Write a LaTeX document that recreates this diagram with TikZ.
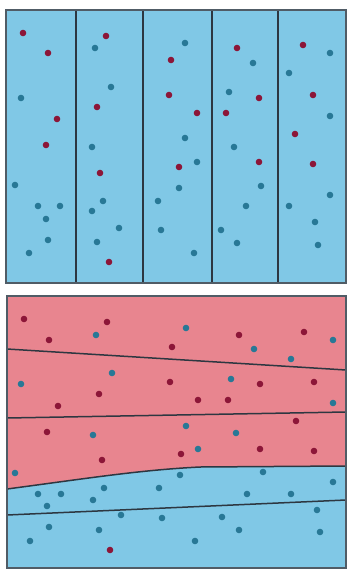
\documentclass[tikz,border=0pt]{standalone}
\begin{document}
\begin{tikzpicture}[x=1pt,y=-1pt]
\definecolor{skyb}{RGB}{128,200,230}
\definecolor{pinkr}{RGB}{232,133,143}
\definecolor{dotred}{RGB}{140,22,56}
\definecolor{dotblue}{RGB}{40,120,150}
\definecolor{frame}{RGB}{80,92,102}
\definecolor{sep}{RGB}{45,55,65}
\tikzset{
  rdot/.style={fill=dotred},
  bdot/.style={fill=dotblue},
  panel/.style={draw=frame,line width=1.3pt},
  divider/.style={draw=sep,line width=1.5pt}
}
\useasboundingbox (0,0) rectangle (348,570);
\fill[white] (0,0) rectangle (348,570);
% ---------- top panel ----------
\fill[skyb] (6,10) rectangle (346,283);
\foreach \x in {76,143,212,278}{
  \draw[divider] (\x,10) -- (\x,283);
}
\draw[panel] (6,10) rectangle (346,283);
\foreach \x/\y in {23/33,48/53,57/119,46/145,106/36,97/107,100/173,109/262,171/60,169/95,
  197/113,179/167,237/48,259/98,226/113,259/162,303/45,313/95,295/134,313/164}{
  \fill[rdot] (\x,\y) circle (3.3);
}
\foreach \x/\y in {21/98,15/185,38/206,60/206,46/219,48/240,29/253,95/48,111/87,92/147,103/201,92/211,119/228,97/242,158/201,161/230,
  185/43,185/138,197/162,179/188,194/253,253/63,229/92,234/147,261/186,246/206,221/230,237/243,
  330/53,289/73,330/116,330/195,289/206,315/222,318/245}{
  \fill[bdot] (\x,\y) circle (3.3);
}
% ---------- bottom panel ----------
\fill[pinkr] (7,296) rectangle (346,568);
\fill[skyb] (7,489) .. controls (90,478) and (140,470) .. (200,467) -- (346,466) -- (346,568) -- (7,568) -- cycle;
\draw[divider] (7,349) -- (346,370);
\draw[divider] (7,418) -- (346,412);
\draw[divider] (7,489) .. controls (90,478) and (140,470) .. (200,467) -- (346,466);
\draw[divider] (7,515) -- (346,500);
\draw[panel] (7,296) rectangle (346,568);
\foreach \x/\y in {24/319,49/340,107/322,172/347,170/382,99/394,58/406,47/432,102/460,110/550,
  239/335,304/332,260/384,314/382,198/400,228/400,296/421,181/454,260/449,314/451}{
  \fill[rdot] (\x,\y) circle (3.3);
}
\foreach \x/\y in {96/335,112/373,21/384,93/435,15/473,104/488,159/488,38/494,61/494,47/506,93/500,121/515,162/518,49/527,99/530,30/541,
  186/328,254/349,291/359,333/340,231/379,333/403,186/426,236/433,198/449,180/475,263/472,333/482,247/494,291/494,317/510,222/517,239/530,320/532,195/541}{
  \fill[bdot] (\x,\y) circle (3.3);
}
\end{tikzpicture}
\end{document}
